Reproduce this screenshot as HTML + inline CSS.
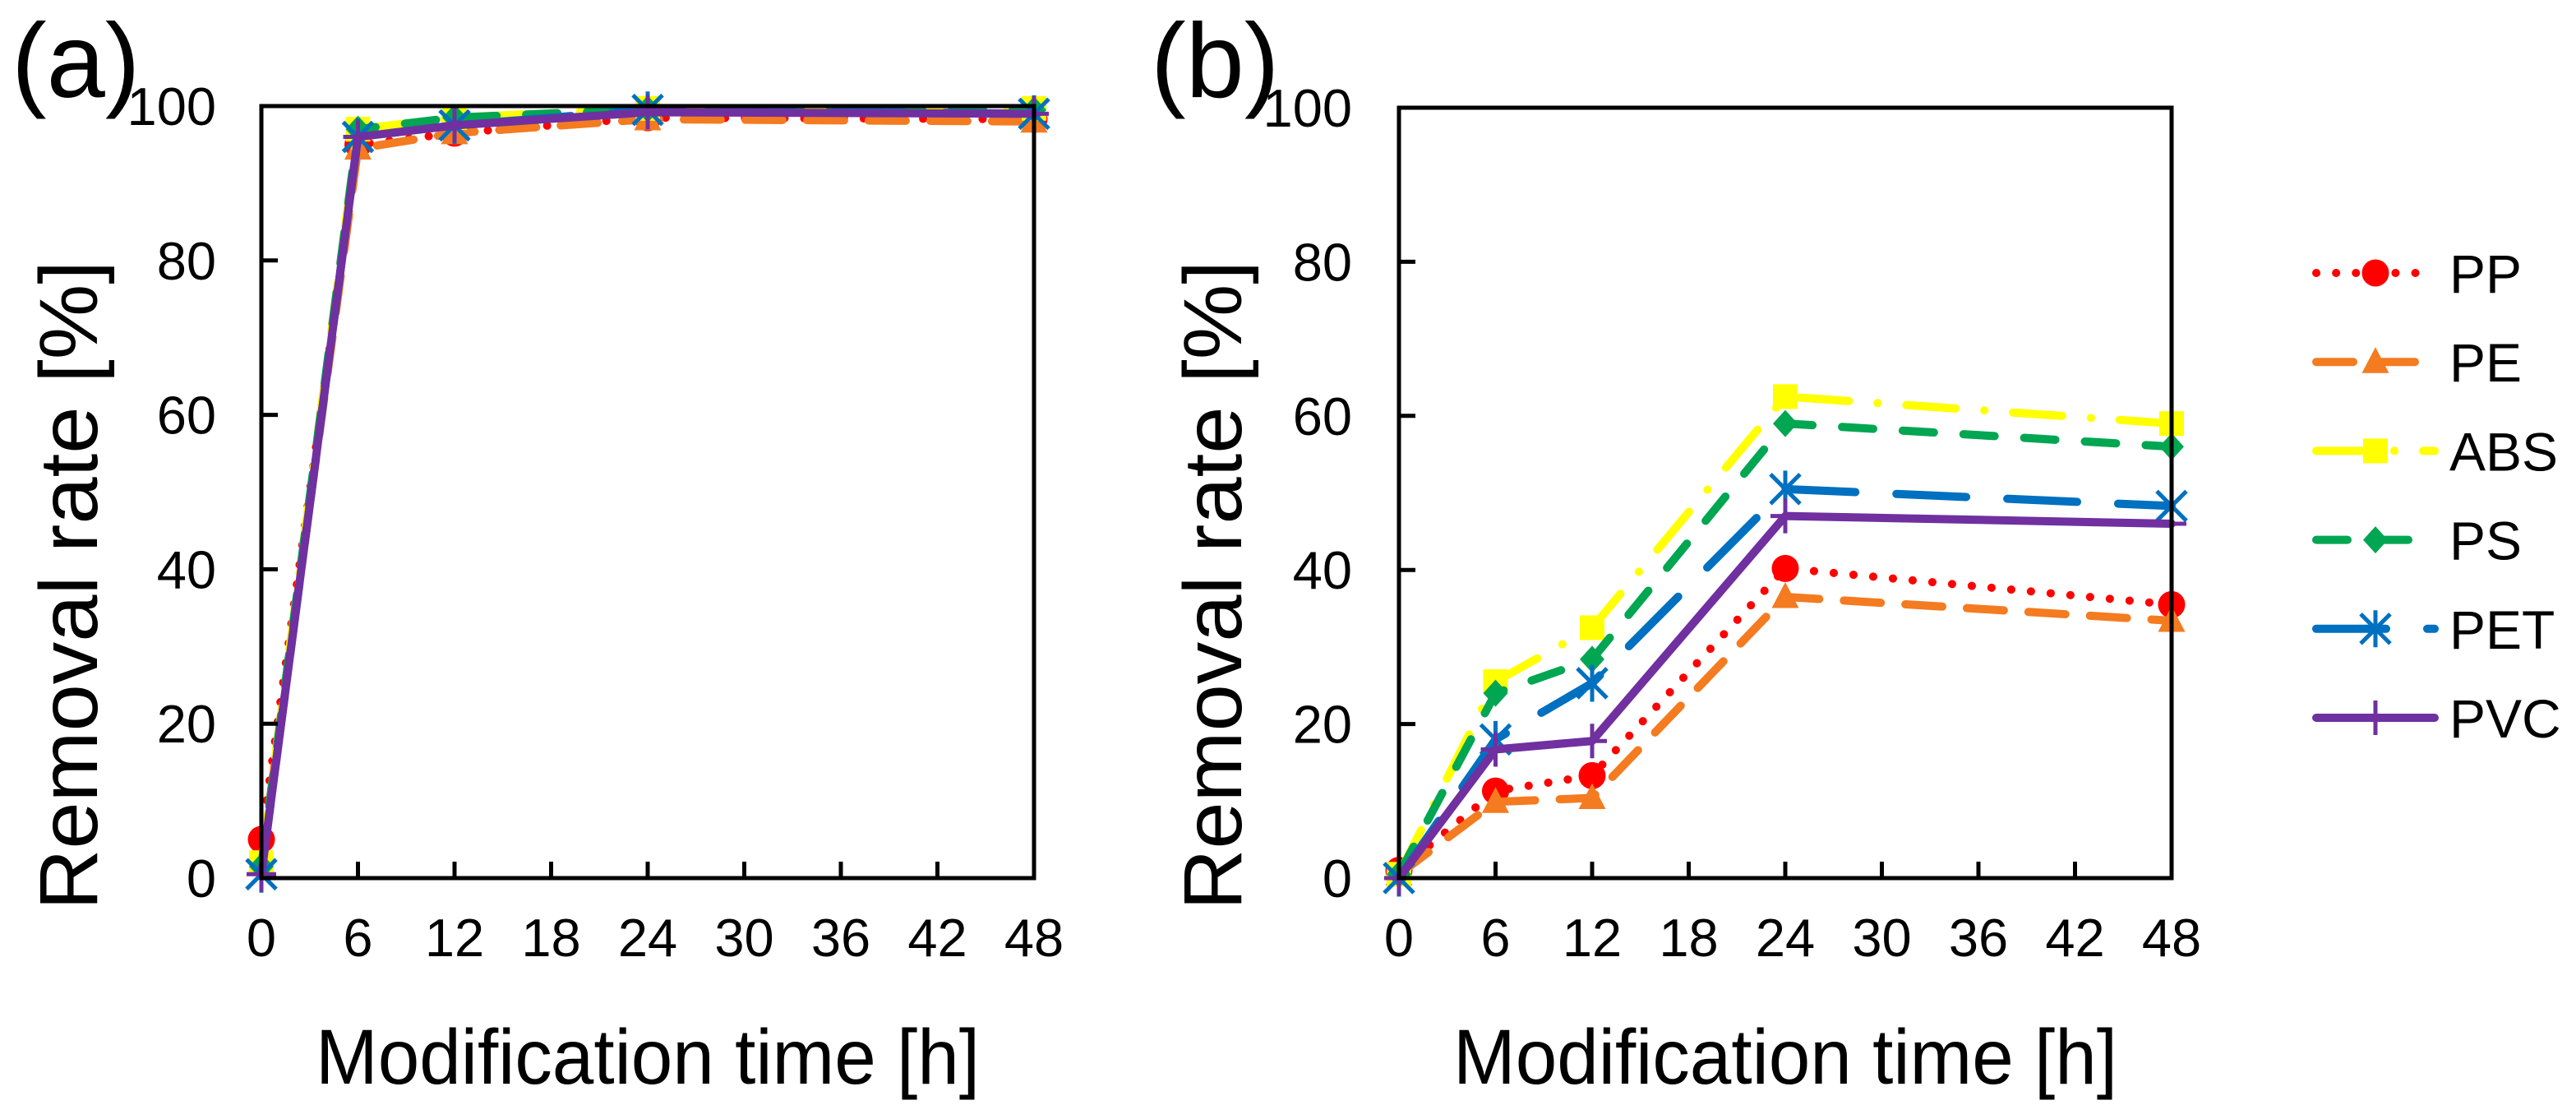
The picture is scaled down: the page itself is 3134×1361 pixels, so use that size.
<!DOCTYPE html>
<html><head><meta charset="utf-8"><style>
html,body{margin:0;padding:0;background:#fff;}
svg{display:block;font-family:"Liberation Sans",Arial,sans-serif;}
</style></head><body>
<svg id="chart" width="3134" height="1361" viewBox="0 0 3134 1361" xmlns="http://www.w3.org/2000/svg">
<rect x="0" y="0" width="3134" height="1361" fill="#fff"/>
<g id="pa"></g>
<g id="pb"></g>
<g id="legend"></g>
</svg>
<script>
const xTicks=[0,6,12,18,24,30,36,42,48];
const yTicks=[0,20,40,60,80,100];
const times=[0,6,12,24,48];
const seriesNames=["PP","PE","ABS","PS","PET","PVC"];
// panel (a)
const aPP=[5,95,96.5,98.5,98.3];
const aPE=[2,94.5,96.5,98.3,98];
const aABS=[2,97,98.5,99.7,99.7];
const aPS=[1.5,97,98.5,99.6,99.5];
const aPET=[0.5,96,97.5,99.5,99];
const aPVC=[0.5,96,97.5,99.2,99];
// panel (b)
const bPP=[1,11.3,13.3,40.2,35.5];
const bPE=[0.5,9.9,10.4,36.5,33.4];
const bABS=[0.5,25.5,32.5,62.5,59];
const bPS=[0.5,24,28.4,59,56];
const bPET=[0,18,25.3,50.5,48.3];
const bPVC=[0,16.7,17.8,47,46];

const NS="http://www.w3.org/2000/svg";
const styles=[
 {c:"#ff0000",dash:"0.1 24",cap:"round",m:"circle"},
 {c:"#f47b20",dash:"45 30",cap:"round",m:"tri"},
 {c:"#ffff00",dash:"60 35 0.1 35",cap:"round",m:"square"},
 {c:"#00a651",dash:"38 36",cap:"round",m:"diamond"},
 {c:"#0070c0",dash:"85 50",cap:"round",m:"x"},
 {c:"#7030a0",dash:"",cap:"round",m:"plus"}
];
function el(tag,attrs,parent){const e=document.createElementNS(NS,tag);for(const k in attrs)e.setAttribute(k,attrs[k]);parent.appendChild(e);return e;}
function marker(g,type,x,y,c,s){
 let e;
 if(type==="circle")e=el("circle",{cx:x,cy:y,r:s*0.55,fill:c},g);
 else if(type==="tri")e=el("polygon",{points:`${x},${y-s*0.6} ${x-s*0.55},${y+s*0.45} ${x+s*0.55},${y+s*0.45}`,fill:c},g);
 else if(type==="square")e=el("rect",{x:x-s*0.5,y:y-s*0.5,width:s,height:s,fill:c},g);
 else if(type==="diamond")e=el("polygon",{points:`${x},${y-s*0.55} ${x+s*0.5},${y} ${x},${y+s*0.55} ${x-s*0.5},${y}`,fill:c},g);
 else if(type==="x"){e=el("path",{d:`M${x-s*0.6},${y-s*0.6}L${x+s*0.6},${y+s*0.6}M${x+s*0.6},${y-s*0.6}L${x-s*0.6},${y+s*0.6}M${x},${y-s*0.75}L${x},${y+s*0.75}`,stroke:c,"stroke-width":5,fill:"none"},g);}
 else {e=el("path",{d:`M${x-s*0.6},${y}L${x+s*0.6},${y}M${x},${y-s*0.7}L${x},${y+s*0.7}`,stroke:c,"stroke-width":5,fill:"none"},g);}
 
 
}
function panel(gid,L,T,R,B,data,label,labelX,titleX,tickRight){
 const g=document.getElementById(gid);
 const sx=v=>L+(v-0)/48*(R-L);
 const sy=v=>B-(v-0)/100*(B-T);
 data.forEach((arr,i)=>{
  const st=styles[i];
  const d=arr.map((v,j)=>(j?"L":"M")+sx(times[j])+","+sy(v)).join("");
  const p=el("path",{d:d,fill:"none",stroke:st.c,"stroke-width":10,"stroke-dasharray":st.dash,"stroke-linecap":st.cap,"stroke-linejoin":"round"},g);
  
  
  arr.forEach((v,j)=>marker(g,st.m,sx(times[j]),sy(v),st.c,30));
 });
 const fr=el("rect",{x:L,y:T,width:R-L,height:B-T,fill:"none",stroke:"#000","stroke-width":5},g);
 
 
 xTicks.forEach(t=>{
  const tk=el("line",{x1:sx(t),x2:sx(t),y1:B,y2:B-20,stroke:"#000","stroke-width":5},g);
  
  
  const tx=el("text",{x:sx(t),y:1163,"font-size":65,"text-anchor":"middle",fill:"#000"},g);
  tx.textContent=t;
  
  
 });
 yTicks.forEach(t=>{
  const tk=el("line",{x1:L,x2:L+20,y1:sy(t),y2:sy(t),stroke:"#000","stroke-width":5},g);
  
  
  const tx=el("text",{x:tickRight,y:sy(t)+23,"font-size":65,"text-anchor":"end",fill:"#000"},g);
  tx.textContent=t;
  
  
 });
 const xt=el("text",{x:(L+R)/2,y:1318,"font-size":95,"text-anchor":"middle",fill:"#000",textLength:808,lengthAdjust:"spacingAndGlyphs"},g);
 xt.textContent="Modification time [h]";
 
 
 const cy=712;
 const yt=el("text",{x:0,y:0,"font-size":100,"text-anchor":"middle",fill:"#000",textLength:790,lengthAdjust:"spacingAndGlyphs",transform:`translate(${titleX},${cy}) rotate(-90)`},g);
 yt.textContent="Removal rate [%]";
 
 
 const pl=el("text",{x:labelX,y:118,"font-size":128,fill:"#000"},g);
 pl.textContent=label;
 
 
}
panel("pa",318,129,1258,1068,[aPP,aPE,aABS,aPS,aPET,aPVC],"(a)",14,118,263);
panel("pb",1702,131,2642,1068,[bPP,bPE,bABS,bPS,bPET,bPVC],"(b)",1400,1510,1645);
const lg=document.getElementById("legend");
seriesNames.forEach((n,i)=>{
 const y=332+i*108.2, st=styles[i];
 const ln=el("line",{x1:2818,x2:2962,y1:y,y2:y,stroke:st.c,"stroke-width":10,"stroke-dasharray":st.dash,"stroke-linecap":"round"},lg);
 
 
 marker(lg,st.m,2890,y,st.c,30);
 const t=el("text",{x:2980,y:y+24,"font-size":66,fill:"#000"},lg);
 t.textContent=n;
 
 
});
</script>
</body></html>
